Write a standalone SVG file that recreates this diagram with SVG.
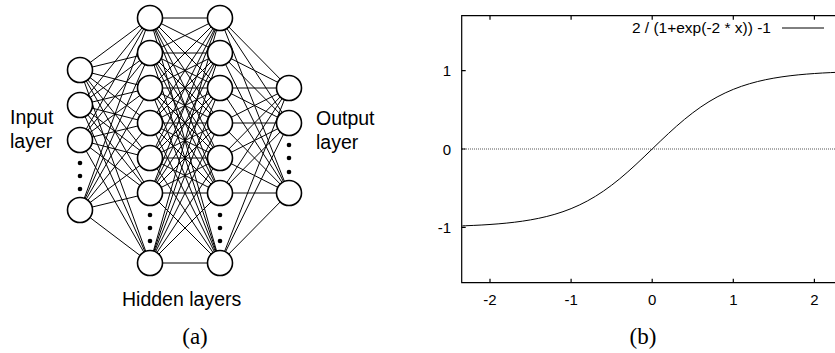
<svg xmlns="http://www.w3.org/2000/svg" width="835" height="353" viewBox="0 0 835 353">
<style>
.c{stroke:#000;stroke-width:1}
.n{fill:#fff;stroke:#000;stroke-width:1.6}
.d{fill:#000}
.t{font-family:"Liberation Sans",Arial,sans-serif;font-size:19.5px;fill:#000}
.s{font-family:"Liberation Serif","Times New Roman",serif;font-size:23px;fill:#000}
.p{font-family:"Liberation Sans",Arial,sans-serif;font-size:15px;fill:#000}
.ax{stroke:#000;stroke-width:1.2;fill:none}
</style>
<g id="connectors" class="c">
<path d="M80,70L150,18M80,70L150,53M80,70L150,88M80,70L150,123M80,70L150,158M80,70L150,193M80,70L150,263
M80,105L150,18M80,105L150,53M80,105L150,88M80,105L150,123M80,105L150,158M80,105L150,193M80,105L150,263
M80,140L150,18M80,140L150,53M80,140L150,88M80,140L150,123M80,140L150,158M80,140L150,193M80,140L150,263
M80,210L150,18M80,210L150,53M80,210L150,88M80,210L150,123M80,210L150,158M80,210L150,193M80,210L150,263"/>
<path d="M150,18L220,18M150,18L220,53M150,18L220,88M150,18L220,123M150,18L220,158M150,18L220,193M150,18L220,263
M150,53L220,18M150,53L220,53M150,53L220,88M150,53L220,123M150,53L220,158M150,53L220,193M150,53L220,263
M150,88L220,18M150,88L220,53M150,88L220,88M150,88L220,123M150,88L220,158M150,88L220,193M150,88L220,263
M150,123L220,18M150,123L220,53M150,123L220,88M150,123L220,123M150,123L220,158M150,123L220,193M150,123L220,263
M150,158L220,18M150,158L220,53M150,158L220,88M150,158L220,123M150,158L220,158M150,158L220,193M150,158L220,263
M150,193L220,18M150,193L220,53M150,193L220,88M150,193L220,123M150,193L220,158M150,193L220,193M150,193L220,263
M150,263L220,18M150,263L220,53M150,263L220,88M150,263L220,123M150,263L220,158M150,263L220,193M150,263L220,263"/>
<path d="M220,18L289,88M220,18L289,123M220,18L289,193
M220,53L289,88M220,53L289,123M220,53L289,193
M220,88L289,88M220,88L289,123M220,88L289,193
M220,123L289,88M220,123L289,123M220,123L289,193
M220,158L289,88M220,158L289,123M220,158L289,193
M220,193L289,88M220,193L289,123M220,193L289,193
M220,263L289,88M220,263L289,123M220,263L289,193"/>
</g>
<g id="input-layer">
<circle class="n" cx="80" cy="70" r="12.5"/>
<circle class="n" cx="80" cy="105" r="12.5"/>
<circle class="n" cx="80" cy="140" r="12.5"/>
<circle class="n" cx="80" cy="210" r="12.5"/>
<circle class="d" cx="80" cy="163" r="2.3"/>
<circle class="d" cx="80" cy="176" r="2.3"/>
<circle class="d" cx="80" cy="189" r="2.3"/>
</g>
<g id="hidden-layer-1">
<circle class="n" cx="150" cy="18" r="12.5"/>
<circle class="n" cx="150" cy="53" r="12.5"/>
<circle class="n" cx="150" cy="88" r="12.5"/>
<circle class="n" cx="150" cy="123" r="12.5"/>
<circle class="n" cx="150" cy="158" r="12.5"/>
<circle class="n" cx="150" cy="193" r="12.5"/>
<circle class="n" cx="150" cy="263" r="12.5"/>
<circle class="d" cx="150" cy="215" r="2.3"/>
<circle class="d" cx="150" cy="228" r="2.3"/>
<circle class="d" cx="150" cy="241" r="2.3"/>
</g>
<g id="hidden-layer-2">
<circle class="n" cx="220" cy="18" r="12.5"/>
<circle class="n" cx="220" cy="53" r="12.5"/>
<circle class="n" cx="220" cy="88" r="12.5"/>
<circle class="n" cx="220" cy="123" r="12.5"/>
<circle class="n" cx="220" cy="158" r="12.5"/>
<circle class="n" cx="220" cy="193" r="12.5"/>
<circle class="n" cx="220" cy="263" r="12.5"/>
<circle class="d" cx="220" cy="215" r="2.3"/>
<circle class="d" cx="220" cy="228" r="2.3"/>
<circle class="d" cx="220" cy="241" r="2.3"/>
</g>
<g id="output-layer">
<circle class="n" cx="289" cy="88" r="12.5"/>
<circle class="n" cx="289" cy="123" r="12.5"/>
<circle class="n" cx="289" cy="193" r="12.5"/>
<circle class="d" cx="289" cy="145" r="2.3"/>
<circle class="d" cx="289" cy="158" r="2.3"/>
<circle class="d" cx="289" cy="172" r="2.3"/>
</g>
<g id="labels-a">
<text class="t" x="10" y="124">Input</text>
<text class="t" x="10" y="148">layer</text>
<text class="t" x="316" y="125">Output</text>
<text class="t" x="316" y="149">layer</text>
<text class="t" x="122" y="306">Hidden layers</text>
<text class="s" x="195" y="344" text-anchor="middle">(a)</text>
</g>
<g id="plot">
<line x1="462" y1="149" x2="835" y2="149" stroke="#555" stroke-width="1" stroke-dasharray="1,1"/>
<path class="ax" d="M845,15.7H461.7V282.7H845"/>
<path class="ax" d="M490,15.7v4M571.1,15.7v4M652.2,15.7v4M733.3,15.7v4M814.4,15.7v4M490,282.7v-4M571.1,282.7v-4M652.2,282.7v-4M733.3,282.7v-4M814.4,282.7v-4M461.7,70.7h4M461.7,149h4M461.7,227.3h4"/>
<text class="p" x="451" y="76" text-anchor="end">1</text>
<text class="p" x="451" y="155" text-anchor="end">0</text>
<text class="p" x="451" y="233" text-anchor="end">-1</text>
<text class="p" x="490" y="305" text-anchor="middle">-2</text>
<text class="p" x="571.1" y="305" text-anchor="middle">-1</text>
<text class="p" x="652.2" y="305" text-anchor="middle">0</text>
<text class="p" x="733.3" y="305" text-anchor="middle">1</text>
<text class="p" x="814.4" y="305" text-anchor="middle">2</text>
<text class="p" x="771" y="33" text-anchor="end" style="font-size:15.5px">2 / (1+exp(-2 * x)) -1</text>
<line x1="782" y1="28" x2="824" y2="28" stroke="#000" stroke-width="1"/>
<polyline fill="none" stroke="#000" stroke-width="1" points="462.4,225.86 465.67,225.74 473.78,225.4 481.89,224.99 490,224.48 498.11,223.87 506.22,223.13 514.33,222.24 522.44,221.17 530.55,219.87 538.66,218.32 546.77,216.47 554.88,214.27 562.99,211.68 571.1,208.63 579.21,205.09 587.32,200.99 595.43,196.32 603.54,191.05 611.65,185.18 619.76,178.75 627.87,171.81 635.98,164.45 644.09,156.8 652.2,149 660.31,141.2 668.42,133.55 676.53,126.19 684.64,119.25 692.75,112.82 700.86,106.95 708.97,101.68 717.08,97.01 725.19,92.91 733.3,89.37 741.41,86.32 749.52,83.73 757.63,81.53 765.74,79.68 773.85,78.13 781.96,76.83 790.07,75.76 798.18,74.87 806.29,74.13 814.4,73.52 822.51,73.01 830.62,72.6 838.73,72.26"/>
<text class="s" x="643" y="344" text-anchor="middle">(b)</text>
</g>
</svg>
